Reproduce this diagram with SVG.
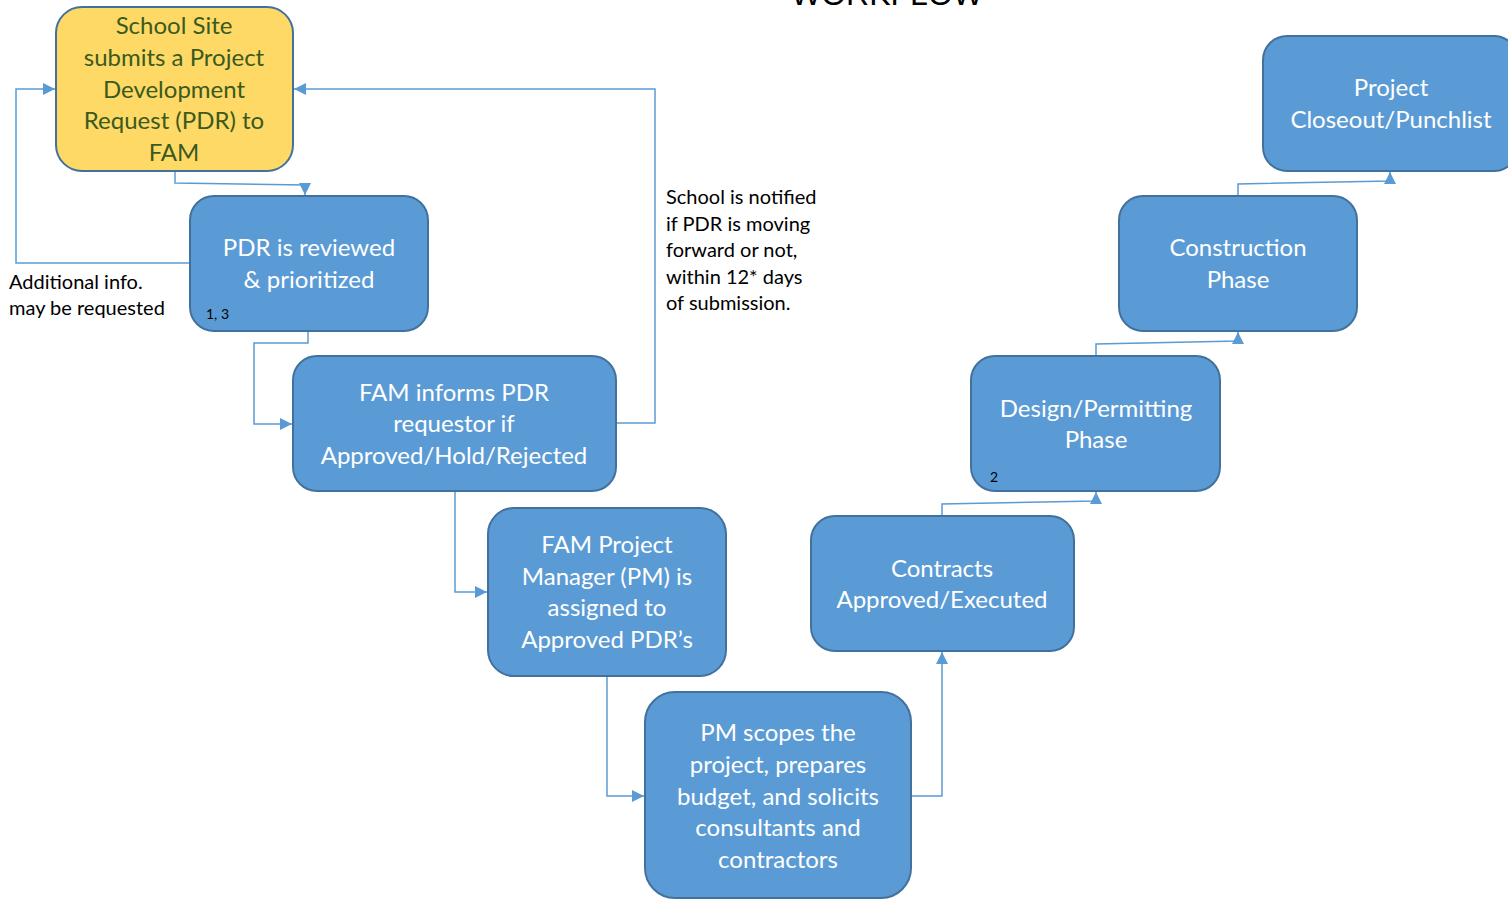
<svg xmlns="http://www.w3.org/2000/svg" width="1508" height="899" viewBox="0 0 1508 899">
<defs>
<style>
.box{fill:#5B9BD5;stroke:#41719C;stroke-width:2}
.ybox{fill:#FFD966;stroke:#41719C;stroke-width:2}
.t{font-family:Lato,"Liberation Sans",sans-serif;font-size:24px;fill:#FFFFFF;text-anchor:middle}
.yt{font-family:Lato,"Liberation Sans",sans-serif;font-size:24px;fill:#3A5A1E;text-anchor:middle}
.note{font-family:Lato,"Liberation Sans",sans-serif;font-size:20px;fill:#000000}
.sm{font-family:Lato,"Liberation Sans",sans-serif;font-size:14px;fill:#000000}
.title{font-family:"Liberation Sans",Arial,sans-serif;font-size:32px;fill:#000000;text-anchor:middle}
.c{fill:none;stroke:#5B9BD5;stroke-width:1.5}
</style>
<marker id="arr" viewBox="0 0 10 10" refX="10" refY="5" markerWidth="12" markerHeight="12" markerUnits="userSpaceOnUse" orient="auto">
<path d="M0,0 L10,5 L0,10 z" fill="#5B9BD5"/>
</marker>
</defs>
<rect width="1508" height="899" fill="#FFFFFF"/>
<text class="title" x="887" y="5">WORKFLOW</text>

<g id="connectors">
<path class="c" d="M175,171 V183 L305,185 V195" marker-end="url(#arr)"/>
<path class="c" d="M190,263 H16 V89 H55" marker-end="url(#arr)"/>
<path class="c" d="M308,331 V343 H254 V424 H292" marker-end="url(#arr)"/>
<path class="c" d="M616,423 H655 V89 H294" marker-end="url(#arr)"/>
<path class="c" d="M455,491 V592 H487" marker-end="url(#arr)"/>
<path class="c" d="M607,676 V796 H644" marker-end="url(#arr)"/>
<path class="c" d="M911,796 H942 V652" marker-end="url(#arr)"/>
<path class="c" d="M942,516 V504 L1096,501 V492" marker-end="url(#arr)"/>
<path class="c" d="M1096,356 V344 L1238,341 V332" marker-end="url(#arr)"/>
<path class="c" d="M1238,196 V184 L1390,181 V172" marker-end="url(#arr)"/>
</g>

<g id="n1">
<rect class="ybox" x="56" y="7" width="237" height="164" rx="26"/>
<text class="yt" x="174" y="34">School Site</text>
<text class="yt" x="174" y="66">submits a Project</text>
<text class="yt" x="174" y="98">Development</text>
<text class="yt" x="174" y="129">Request (PDR) to</text>
<text class="yt" x="174" y="161">FAM</text>
</g>

<g id="n2">
<rect class="box" x="190" y="196" width="238" height="135" rx="24"/>
<text class="t" x="309" y="256">PDR is reviewed</text>
<text class="t" x="309" y="288">&amp; prioritized</text>
<text class="sm" x="206" y="319">1, 3</text>
</g>

<g id="n3">
<rect class="box" x="293" y="356" width="323" height="135" rx="24"/>
<text class="t" x="454" y="401">FAM informs PDR</text>
<text class="t" x="454" y="432">requestor if</text>
<text class="t" x="454" y="464">Approved/Hold/Rejected</text>
</g>

<g id="n4">
<rect class="box" x="488" y="508" width="238" height="168" rx="26"/>
<text class="t" x="607" y="553">FAM Project</text>
<text class="t" x="607" y="585">Manager (PM) is</text>
<text class="t" x="607" y="616">assigned to</text>
<text class="t" x="607" y="648">Approved PDR’s</text>
</g>

<g id="n5">
<rect class="box" x="645" y="692" width="266" height="206" rx="30"/>
<text class="t" x="778" y="741">PM scopes the</text>
<text class="t" x="778" y="773">project, prepares</text>
<text class="t" x="778" y="805">budget, and solicits</text>
<text class="t" x="778" y="836">consultants and</text>
<text class="t" x="778" y="868">contractors</text>
</g>

<g id="n6">
<rect class="box" x="811" y="516" width="263" height="135" rx="24"/>
<text class="t" x="942" y="577">Contracts</text>
<text class="t" x="942" y="608">Approved/Executed</text>
</g>

<g id="n7">
<rect class="box" x="971" y="356" width="249" height="135" rx="24"/>
<text class="t" x="1096" y="417">Design/Permitting</text>
<text class="t" x="1096" y="448">Phase</text>
<text class="sm" x="990" y="482">2</text>
</g>

<g id="n8">
<rect class="box" x="1119" y="196" width="238" height="135" rx="24"/>
<text class="t" x="1238" y="256">Construction</text>
<text class="t" x="1238" y="288">Phase</text>
</g>

<g id="n9">
<rect class="box" x="1263" y="36" width="255" height="135" rx="24"/>
<text class="t" x="1391" y="96">Project</text>
<text class="t" x="1391" y="128">Closeout/Punchlist</text>
</g>

<g id="labels">
<text class="note" x="666" y="204">School is notified</text>
<text class="note" x="666" y="231">if PDR is moving</text>
<text class="note" x="666" y="257">forward or not,</text>
<text class="note" x="666" y="284">within 12* days</text>
<text class="note" x="666" y="310">of submission.</text>
<text class="note" x="9" y="289">Additional info.</text>
<text class="note" x="9" y="315">may be requested</text>
</g>
</svg>
